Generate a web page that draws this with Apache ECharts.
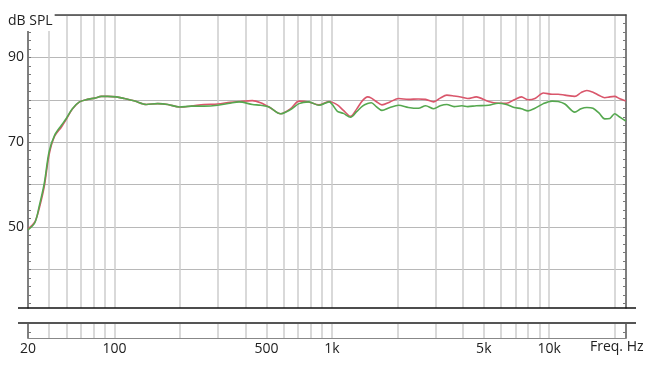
<!DOCTYPE html>
<html>
<head>
<meta charset="utf-8">
<script src="https://cdn.jsdelivr.net/npm/echarts@6/dist/echarts.min.js"></script>
<style>html,body{margin:0;padding:0;background:#fff}#c{width:650px;height:369px}</style>
</head>
<body>
<div id="c"></div>
<script>
// Frequency (Hz)
const freqs = [40,43,45,47.5,50,53,57,60,64,69,75,81,87,93,102,111,124,140,158,176,199,225,258,298,340,374,431,470,514,581,646,706,782,872,970,1060,1130,1219,1300,1383,1460,1520,1600,1700,1850,2027,2250,2500,2700,2941,3150,3378,3650,3966,4220,4618,5253,5822,6355,6900,7445,8000,8600,9400,10300,11000,11800,13100,14000,14900,15900,17000,18000,19000,20000,21000,22500];
// Red curve (dB SPL)
const redDb = [49.5,51.2,54.3,59.5,67.0,71.4,73.6,75.4,77.8,79.5,80.1,80.4,80.8,80.8,80.7,80.3,79.7,78.9,79.1,78.9,78.3,78.5,78.9,79.0,79.4,79.6,79.8,79.3,78.3,76.7,77.9,79.7,79.5,78.8,79.6,78.8,77.5,76.1,77.8,79.8,80.7,80.4,79.6,78.8,79.5,80.3,80.1,80.2,80.1,79.5,80.4,81.1,80.9,80.6,80.3,80.7,79.6,79.2,79.2,80.0,80.7,80.0,80.3,81.6,81.3,81.3,81.1,80.8,81.7,82.2,81.8,81.0,80.5,80.7,80.8,80.3,79.7];
// Green curve (dB SPL)
const greenDb = [49.3,51.0,54.8,60.2,67.7,71.6,74.0,75.6,77.9,79.5,80.1,80.4,80.8,80.8,80.7,80.3,79.7,78.9,79.1,78.9,78.3,78.5,78.5,78.7,79.2,79.5,78.9,78.7,78.3,76.7,77.7,79.1,79.5,78.7,79.5,77.3,76.8,75.9,77.2,78.5,79.1,79.3,78.4,77.5,78.2,78.7,78.2,78.0,78.6,77.9,78.6,78.9,78.4,78.6,78.4,78.6,78.7,79.2,78.9,78.2,77.9,77.4,78.0,79.1,79.7,79.6,79.0,77.1,77.9,78.2,78.0,76.8,75.5,75.6,76.7,76.0,75.0];
// X grid lines (Hz)
const xGridValues = [50,60,70,80,90,100,200,300,400,500,600,700,800,900,1000,2000,3000,4000,5000,6000,7000,8000,9000,10000,20000];
// X tick labels
const xLabelValues = [40,100,500,1000,5000,10000];
const xLabelTexts = ['20','100','500','1k','5k','10k'];
// Y grid lines and labels (dB)
const yGridValues = [40,50,60,70,80,90,100];
const yLabelValues = [50,70,90];
const yMinorTicks = [32,34,36,38,40,42,44,46,48,50,52,54,56,58,60,62,64,66,68,70,72,74,76,78,80,82,84,86,88,90,92,94,96,98];

const X_MIN = 40, X_MAX = 22550, Y_MIN = 30.9, Y_MAX = 100;
const FONT = 'Open Sans';
const gridLineStyle = {color:'#cdcdcd', width:1.5};

const chart = echarts.init(document.getElementById('c'), null, {renderer:'canvas'});
const mkX = (grid, pos, extra) => Object.assign({
  type:'log', gridIndex:grid, position:pos, min:X_MIN, max:X_MAX, logBase:10,
  axisLine:{show:false}, axisTick:{show:false}, axisLabel:{show:false}, splitLine:{show:false}
}, extra);
const mkY = (grid, pos, min, max, extra) => Object.assign({
  type:'value', gridIndex:grid, position:pos, min:min, max:max,
  axisLine:{show:false}, axisTick:{show:false}, axisLabel:{show:false}, splitLine:{show:false}
}, extra);

chart.setOption({
  animation:false,
  backgroundColor:'#fff',
  grid:[
    {left:28, right:24, top:15, height:293},
    {left:28, right:24, top:323, height:15}
  ],
  xAxis:[
    mkX(0,'bottom',{axisTick:{show:false, customValues:xGridValues}, splitLine:{show:true, lineStyle:gridLineStyle}}),
    mkX(0,'top',{axisLine:{show:true, lineStyle:{color:'#444', width:1.5}}}),
    mkX(1,'bottom',{
      axisLine:{show:true, lineStyle:{color:'#888', width:1}},
      axisTick:{show:false, customValues:xGridValues},
      splitLine:{show:true, lineStyle:gridLineStyle},
      axisLabel:{show:true, customValues:xLabelValues, fontFamily:FONT, fontSize:14, color:'#222', margin:4,
        formatter:function(v){ const i = xLabelValues.findIndex(t => Math.abs(t - v) < 1e-6 * t); return i >= 0 ? xLabelTexts[i] : ''; }}
    })
  ],
  yAxis:[
    mkY(0,'left',Y_MIN,Y_MAX,{
      axisLine:{show:true, lineStyle:{color:'#555', width:1.5}},
      axisTick:{show:false, customValues:yGridValues},
      splitLine:{show:true, lineStyle:{color:'#b8b8b8', width:1}},
      axisLabel:{show:true, customValues:yLabelValues, fontFamily:FONT, fontSize:14, color:'#222', margin:4}
    }),
    mkY(0,'left',Y_MIN,Y_MAX,{axisTick:{show:true, inside:true, length:3, customValues:yMinorTicks, lineStyle:{color:'#777', width:1}}}),
    mkY(0,'right',Y_MIN,Y_MAX,{
      axisLine:{show:true, lineStyle:{color:'#555', width:1.5}},
      axisTick:{show:true, inside:true, length:3, customValues:yMinorTicks, lineStyle:{color:'#777', width:1}}
    }),
    mkY(1,'left',0,1,{axisLine:{show:true, lineStyle:{color:'#555', width:1.5}}, axisTick:{show:true, inside:true, length:3, customValues:[0.4], lineStyle:{color:'#777'}}}),
    mkY(1,'right',0,1,{axisLine:{show:true, lineStyle:{color:'#555', width:1.5}}, axisTick:{show:true, inside:true, length:3, customValues:[0.4], lineStyle:{color:'#777'}}})
  ],
  series:[
    {type:'line', xAxisIndex:0, yAxisIndex:0, data:freqs.map((f,i)=>[f, redDb[i]]), showSymbol:false, smooth:0.3,
      lineStyle:{color:'#d9566b', width:1.6}, z:3},
    {type:'line', xAxisIndex:0, yAxisIndex:0, data:freqs.map((f,i)=>[f, greenDb[i]]), showSymbol:false, smooth:0.3,
      lineStyle:{color:'#55a84f', width:1.6}, z:4}
  ],
  graphic:[
    {type:'line', shape:{x1:18, y1:308, x2:636, y2:308}, style:{stroke:'#111', lineWidth:1.6}, z:10},
    {type:'line', shape:{x1:18, y1:323, x2:636, y2:323}, style:{stroke:'#555', lineWidth:2}, z:10},
    {type:'text', left:6, top:13, z:20, style:{text:'dB SPL', font:'14px "Open Sans"', fill:'#222', backgroundColor:'#fff', padding:[1,2,3,2]}},
    {type:'text', left:590, top:340, z:20, style:{text:'Freq. Hz', font:'14px "Open Sans"', fill:'#222'}}
  ]
});
</script>
</body>
</html>
